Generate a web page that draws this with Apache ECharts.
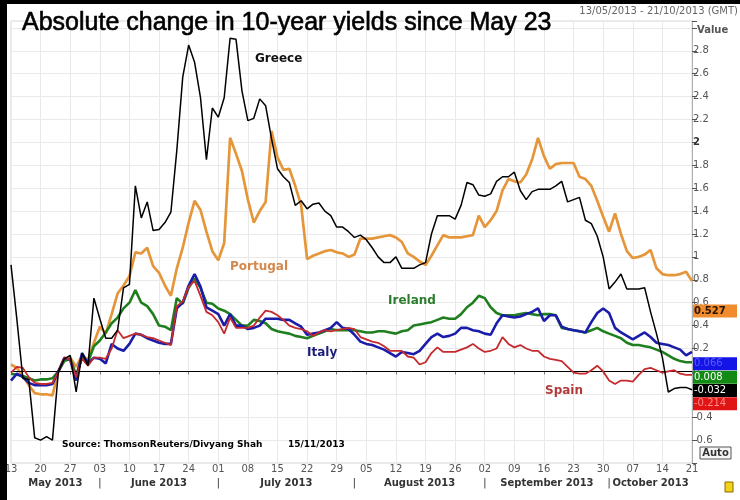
<!DOCTYPE html>
<html><head><meta charset="utf-8">
<script src="https://cdn.jsdelivr.net/npm/echarts/dist/echarts.min.js"></script>
<style>html,body{margin:0;padding:0;background:#fff}#c{width:740px;height:500px}</style>
</head><body><div id="c"></div>
<script>
// Business-day categories from 13 May 2013 to 21 Oct 2013
const START = [2013, 4, 13];
const N_DAYS = 116;
const dates = [];
(function () {
  const d = new Date(Date.UTC(START[0], START[1], START[2]));
  while (dates.length < N_DAYS) {
    const wd = d.getUTCDay();
    if (wd !== 0 && wd !== 6) dates.push(d.toISOString().slice(0, 10));
    d.setUTCDate(d.getUTCDate() + 1);
  }
})();

const monthNames = ['May 2013', 'June 2013', 'July 2013', 'August 2013', 'September 2013', 'October 2013'];
const seriesNames = ['Greece', 'Portugal', 'Ireland', 'Italy', 'Spain'];

const greece = [0.93,0.45,-0.06,-0.07,-0.58,-0.60,-0.57,-0.60,0.00,0.11,
0.14,-0.18,0.16,0.05,0.64,0.46,0.29,0.29,0.36,0.73,
0.76,1.62,1.34,1.48,1.23,1.24,1.30,1.39,1.93,2.57,
2.85,2.70,2.39,1.85,2.30,2.22,2.39,2.91,2.90,2.45,
2.19,2.21,2.38,2.32,2.03,1.77,1.70,1.65,1.45,1.49,
1.42,1.46,1.47,1.40,1.36,1.26,1.26,1.22,1.17,1.19,
1.15,1.08,1.00,0.95,0.95,1.00,0.90,0.90,0.90,0.93,
0.95,1.20,1.36,1.36,1.36,1.33,1.45,1.65,1.63,1.54,
1.53,1.55,1.66,1.70,1.70,1.74,1.58,1.50,1.57,1.59,
1.59,1.59,1.62,1.66,1.48,1.50,1.52,1.32,1.29,1.18,
1.00,0.72,0.78,0.85,0.72,0.72,0.72,0.73,0.52,0.33,
0.12,-0.18,-0.15,-0.14,-0.14,-0.16];

const portugal = [0.06,0.03,-0.04,-0.12,-0.19,-0.20,-0.20,-0.21,0.00,0.10,
0.12,0.04,0.14,0.10,0.25,0.39,0.33,0.50,0.68,0.75,
0.83,1.04,1.03,1.08,0.92,0.86,0.75,0.66,0.90,1.08,
1.30,1.49,1.41,1.22,1.05,0.97,1.12,2.04,1.90,1.75,
1.50,1.30,1.40,1.48,2.10,1.87,1.76,1.77,1.62,1.45,
0.98,1.01,1.03,1.05,1.06,1.04,1.03,1.00,1.02,1.16,
1.16,1.16,1.17,1.18,1.19,1.17,1.13,1.03,1.00,0.96,
0.93,1.01,1.10,1.19,1.17,1.17,1.17,1.18,1.19,1.36,
1.26,1.32,1.40,1.58,1.68,1.66,1.65,1.72,1.85,2.04,
1.88,1.77,1.81,1.82,1.82,1.82,1.70,1.68,1.62,1.49,
1.35,1.22,1.38,1.20,1.05,0.99,1.00,1.02,1.06,0.90,
0.85,0.84,0.84,0.85,0.87,0.79];

const ireland = [-0.02,-0.03,-0.04,-0.06,-0.08,-0.07,-0.07,-0.06,0.00,0.09,
0.11,-0.03,0.12,0.08,0.22,0.27,0.34,0.42,0.47,0.55,
0.60,0.71,0.60,0.57,0.50,0.40,0.39,0.36,0.64,0.59,
0.73,0.81,0.73,0.60,0.59,0.55,0.53,0.50,0.45,0.40,
0.40,0.45,0.44,0.42,0.37,0.35,0.34,0.33,0.31,0.30,
0.29,0.31,0.33,0.35,0.37,0.36,0.36,0.36,0.36,0.35,
0.34,0.34,0.35,0.35,0.34,0.33,0.35,0.36,0.40,0.41,
0.42,0.43,0.45,0.47,0.46,0.46,0.50,0.56,0.60,0.66,
0.64,0.56,0.51,0.49,0.49,0.49,0.50,0.51,0.50,0.49,
0.50,0.50,0.49,0.38,0.37,0.36,0.35,0.34,0.36,0.38,
0.35,0.33,0.31,0.29,0.25,0.23,0.23,0.22,0.21,0.19,
0.17,0.14,0.11,0.09,0.08,0.08];

const italy = [-0.08,-0.02,-0.05,-0.10,-0.12,-0.12,-0.12,-0.11,0.00,0.12,
0.10,-0.08,0.16,0.07,0.12,0.11,0.07,0.24,0.20,0.18,
0.24,0.33,0.32,0.29,0.27,0.25,0.24,0.24,0.55,0.60,
0.75,0.85,0.74,0.56,0.53,0.50,0.40,0.50,0.40,0.40,
0.37,0.38,0.40,0.46,0.46,0.46,0.45,0.45,0.42,0.39,
0.32,0.33,0.34,0.36,0.38,0.43,0.38,0.37,0.32,0.26,
0.24,0.23,0.21,0.19,0.16,0.13,0.17,0.16,0.15,0.18,
0.24,0.30,0.33,0.30,0.31,0.33,0.38,0.38,0.36,0.35,
0.33,0.32,0.42,0.49,0.48,0.47,0.48,0.50,0.52,0.55,
0.44,0.49,0.49,0.39,0.37,0.36,0.35,0.34,0.43,0.51,
0.55,0.51,0.38,0.34,0.31,0.28,0.31,0.34,0.30,0.25,
0.24,0.23,0.21,0.19,0.14,0.17];

const spain = [-0.01,0.04,0.03,-0.05,-0.10,-0.11,-0.11,-0.10,0.00,0.12,
0.10,-0.05,0.11,0.05,0.12,0.12,0.11,0.20,0.36,0.29,
0.31,0.33,0.32,0.30,0.29,0.27,0.25,0.23,0.57,0.61,
0.74,0.79,0.66,0.52,0.49,0.43,0.33,0.47,0.38,0.38,
0.38,0.40,0.47,0.53,0.52,0.49,0.45,0.40,0.38,0.37,
0.35,0.31,0.34,0.36,0.35,0.36,0.37,0.38,0.37,0.30,
0.28,0.26,0.25,0.22,0.18,0.18,0.18,0.13,0.12,0.06,
0.08,0.16,0.21,0.17,0.17,0.17,0.19,0.21,0.24,0.20,
0.17,0.18,0.20,0.30,0.24,0.21,0.23,0.20,0.18,0.18,
0.13,0.11,0.10,0.09,0.04,-0.01,-0.02,-0.02,0.01,0.05,
0.00,-0.08,-0.11,-0.08,-0.08,-0.09,-0.03,0.02,0.03,0.01,
-0.01,0.00,0.01,-0.02,-0.03,-0.03];

// last-value boxes on the right axis (as shown in the original)
const boxValues = [0.527, 0.066, 0.008, -0.032, -0.214];
const boxTexts  = ['0.527', '0.066', '0.008', '-0.032', '-0.214'];

const colors = {Greece:'#000000', Portugal:'#e5963a', Ireland:'#1f7f1f', Italy:'#1c1caa', Spain:'#c42a2e'};
const FONT = 'DejaVu Sans';

const chart = echarts.init(document.getElementById('c'), null, {renderer:'canvas'});
const weekIdx = (i) => i % 5 === 0;

const option = {
  animation: false,
  backgroundColor: '#ffffff',
  title: {
    text: 'Absolute change in 10-year yields since May 23',
    left: 17, top: 6,
    textStyle: {fontFamily:'Liberation Sans', fontSize:25, fontWeight:'normal', color:'#000',
      textBorderColor:'#000', textBorderWidth:0.6}
  },
  grid: {left: 11, right: 48, top: 21, bottom: 37, show: true, borderColor:'#d8d8d8', borderWidth:1, backgroundColor:'#fff'},
  xAxis: {
    type: 'category', data: dates, boundaryGap: false,
    axisLine: {show:true, lineStyle:{color:'#c8c8c8'}},
    axisTick: {show:true, interval: weekIdx, length:3, lineStyle:{color:'#777'}},
    axisLabel: {interval: weekIdx, formatter: v => v.slice(8,10), color:'#555', fontSize:10, fontFamily:FONT, margin:1},
    splitLine: {show:true, interval: weekIdx, lineStyle:{color:'#e9e9e9'}}
  },
  yAxis: {
    type: 'value', position: 'right', min: -0.8, max: 3.06, interval: 0.2,
    axisLine: {show:true, lineStyle:{color:'#b0b0b0'}},
    axisTick: {show:true, length:5, lineStyle:{color:'#555'}},
    axisLabel: {
      margin: 1, color:'#555', fontSize:10, fontFamily:FONT,
      formatter: v => {
        const r = Math.round(v*10)/10;
        if (r <= -0.8 || r >= 3.0) return '';
        if (r === 2) return '{b|2}';
        return String(r);
      },
      rich: {b: {fontWeight:'bold', color:'#333', fontSize:10, fontFamily:FONT}}
    },
    splitLine: {show:true, lineStyle:{color:'#e9e9e9'}}
  },
  series: [
    {name:'Portugal', type:'line', data: portugal, symbol:'none', lineStyle:{color:colors.Portugal, width:2.7}, z:2},
    {name:'Ireland', type:'line', data: ireland, symbol:'none', lineStyle:{color:colors.Ireland, width:2.6}, z:3},
    {name:'Italy', type:'line', data: italy, symbol:'none', lineStyle:{color:colors.Italy, width:2.6}, z:4},
    {name:'Spain', type:'line', data: spain, symbol:'none', lineStyle:{color:colors.Spain, width:1.8}, z:5},
    {name:'Greece', type:'line', data: greece, symbol:'none', lineStyle:{color:colors.Greece, width:1.5}, z:6,
      markLine: {silent:true, symbol:['none','none'], label:{show:false},
        lineStyle:{color:'#000', width:1, type:'solid'}, data:[{yAxis:0}]}}
  ]
};
chart.setOption(option);

// ---- annotations ----
const g = [];
g.push({type:'rect', shape:{x:0, y:0, width:7, height:500}, style:{fill:'#000'}, z:100});
g.push({type:'rect', shape:{x:0, y:0, width:740, height:4}, style:{fill:'#000'}, z:100});
g.push({type:'text', x:738, y:11, style:{text:'13/05/2013 - 21/10/2013 (GMT)', fill:'#666', font:'10px "DejaVu Sans"', align:'right', verticalAlign:'middle'}, z:100});
g.push({type:'text', x:697, y:30, style:{text:'Value', fill:'#555', font:'bold 10px "DejaVu Sans"', align:'left', verticalAlign:'middle'}, z:100});

// series name labels
const nameLabels = [
  {t:'Greece', x:255, y:59, c:'#111111'},
  {t:'Portugal', x:230, y:267, c:'#d4884c'},
  {t:'Ireland', x:388, y:301, c:'#2a7d2a'},
  {t:'Italy', x:307, y:353, c:'#1d1d78'},
  {t:'Spain', x:545, y:391, c:'#b33a3a'}
];
nameLabels.forEach(l => g.push({type:'text', x:l.x, y:l.y, style:{text:l.t, fill:l.c, font:'bold 12px "DejaVu Sans"', verticalAlign:'middle'}, z:50}));

g.push({type:'text', x:62, y:445, style:{text:'Source: ThomsonReuters/Divyang Shah', fill:'#000', font:'bold 9px "DejaVu Sans"', verticalAlign:'middle'}, z:50});
g.push({type:'text', x:288, y:445, style:{text:'15/11/2013', fill:'#000', font:'bold 9px "DejaVu Sans"', verticalAlign:'middle'}, z:50});

// month labels with separators at the first business day of each month
const monthStarts = [0];
for (let i = 1; i < dates.length; i++) if (dates[i].slice(5,7) !== dates[i-1].slice(5,7)) monthStarts.push(i);
const px = i => chart.convertToPixel({xAxisIndex:0}, i);
const xEnd = px(dates.length - 1);
monthStarts.forEach((s, k) => {
  const x0 = px(s);
  const x1 = k + 1 < monthStarts.length ? px(monthStarts[k+1]) : xEnd;
  if (k > 0) g.push({type:'text', x:x0, y:483, style:{text:'|', fill:'#444', font:'11px "DejaVu Sans"', align:'center', verticalAlign:'middle'}, z:50});
  g.push({type:'text', x:(x0 + x1)/2, y:483, style:{text:monthNames[k], fill:'#333', font:'bold 10px "DejaVu Sans"', align:'center', verticalAlign:'middle'}, z:50});
});

// right-side value boxes
const boxFill = ['#f08c2e', '#1414e6', '#138a13', '#000000', '#e01414'];
const boxTextColor = ['#2a1400', '#5a5aff', '#ffffff', '#ffffff', '#ff8a8a'];
const boxWeight = ['bold', 'normal', 'normal', 'normal', 'normal'];
let prevY = -1e9;
boxValues.forEach((v, k) => {
  let cy = chart.convertToPixel({yAxisIndex:0}, v);
  if (cy < prevY + 13.3) cy = prevY + 13.3;
  prevY = cy;
  g.push({type:'rect', shape:{x:693, y:cy - 6.5, width:44, height:13}, style:{fill:boxFill[k]}, z:60});
  g.push({type:'text', x:694, y:cy, style:{text:boxTexts[k], fill:boxTextColor[k], font:boxWeight[k] + ' 10px "DejaVu Sans"', verticalAlign:'middle'}, z:61});
});

// Auto button and icon
g.push({type:'rect', shape:{x:700, y:447, width:31, height:12}, style:{fill:'#f6f6f6', stroke:'#555', lineWidth:1}, z:60});
g.push({type:'text', x:715.5, y:453, style:{text:'Auto', fill:'#333', font:'bold 10px "DejaVu Sans"', align:'center', verticalAlign:'middle'}, z:61});
g.push({type:'rect', shape:{x:725, y:482, width:8, height:10}, style:{fill:'#f2d21a', stroke:'#8a6a00', lineWidth:1}, z:60});

chart.setOption({graphic: g});
</script>
</body></html>
